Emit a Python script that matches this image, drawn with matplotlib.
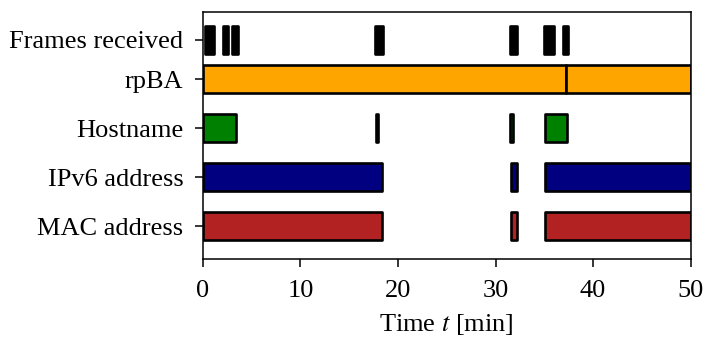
import matplotlib
matplotlib.use("Agg")
import matplotlib.pyplot as plt

plt.rcParams['font.family'] = ['Liberation Serif', 'DejaVu Serif']
plt.rcParams['mathtext.fontset'] = 'stix'

labels = ["Frames received", "rpBA", "Hostname", "IPv6 address", "MAC address"]
row_pos = [3.8, 3, 2, 1, 0]

# (start, duration) in minutes
frames = [(0.2, 0.93), (2.05, 0.5), (2.97, 0.62), (17.6, 0.9), (31.45, 0.72),
          (35.0, 0.6), (35.7, 0.25), (36.9, 0.5)]
rpba = [(0, 37.2), (37.2, 12.8)]
hostname = [(0, 3.4), (17.7, 0.3), (31.5, 0.3), (35.1, 2.2)]
ipv6 = [(0, 18.4), (31.55, 0.6), (35.1, 14.9)]
mac = [(0, 18.4), (31.55, 0.6), (35.1, 14.9)]

series = [frames, rpba, hostname, ipv6, mac]
colors = ["black", "#FFA500", "#008000", "#000080", "#B22222"]

fig = plt.figure(figsize=(7.12, 3.54), dpi=100)
ax = fig.add_axes([0.285, 0.268, 0.685, 0.698])

h = 0.57
for pos, segs, c in zip(row_pos, series, colors):
    ax.broken_barh(segs, (pos - h / 2, h), facecolors=c, edgecolors="black", linewidth=1.9)

fs = 19
ax.set_yticks(row_pos)
ax.set_yticklabels(labels)
ax.set_ylim(-0.67, 4.37)
ax.set_xlim(0, 50)
ax.set_xticks([0, 10, 20, 30, 40, 50])
ax.tick_params(axis='both', labelsize=fs, length=6, width=1.1)
ax.tick_params(axis='y', pad=8)
ax.tick_params(axis='x', pad=9)
for s in ax.spines.values():
    s.set_linewidth(1.1)
ax.set_xlabel("Time $t$ [min]", fontsize=fs, labelpad=7)

fig.savefig("out.png", dpi=100)
